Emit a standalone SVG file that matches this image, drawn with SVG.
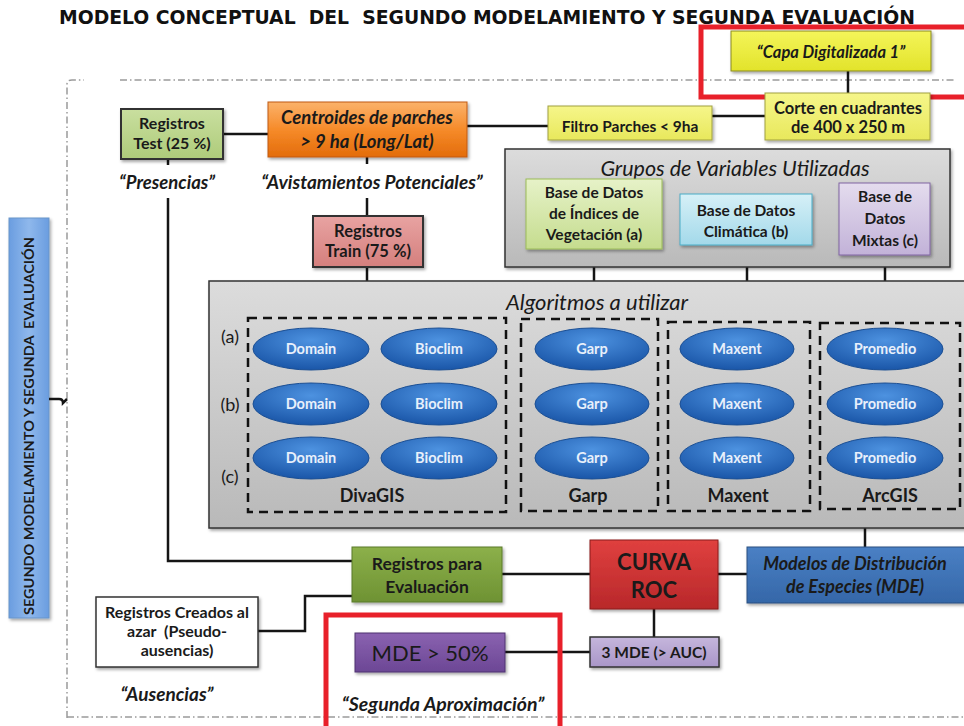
<svg xmlns="http://www.w3.org/2000/svg" width="964" height="726" viewBox="0 0 964 726">
<defs>
<linearGradient id="gOrange" x1="0" y1="0" x2="0" y2="1"><stop offset="0" stop-color="#fbb26a"/><stop offset="0.5" stop-color="#f68b2a"/><stop offset="1" stop-color="#e36c0a"/></linearGradient>
<linearGradient id="gYellow" x1="0" y1="0" x2="0" y2="1"><stop offset="0" stop-color="#f4f55a"/><stop offset="1" stop-color="#e2e32a"/></linearGradient>
<linearGradient id="gYellowL" x1="0" y1="0" x2="0" y2="1"><stop offset="0" stop-color="#f6f68a"/><stop offset="1" stop-color="#e8e85c"/></linearGradient>
<linearGradient id="gGray" x1="0" y1="0" x2="0" y2="1"><stop offset="0" stop-color="#dcdcdc"/><stop offset="1" stop-color="#b9b9b9"/></linearGradient>
<linearGradient id="gGreenL" x1="0" y1="0" x2="0" y2="1"><stop offset="0" stop-color="#e6f2c8"/><stop offset="1" stop-color="#c5dc8e"/></linearGradient>
<linearGradient id="gBlueL" x1="0" y1="0" x2="0" y2="1"><stop offset="0" stop-color="#d6f0f7"/><stop offset="1" stop-color="#a3d9ea"/></linearGradient>
<linearGradient id="gPurpleL" x1="0" y1="0" x2="0" y2="1"><stop offset="0" stop-color="#e4dcee"/><stop offset="1" stop-color="#c2b2d8"/></linearGradient>
<linearGradient id="gGreen" x1="0" y1="0" x2="0" y2="1"><stop offset="0" stop-color="#8cb04a"/><stop offset="1" stop-color="#6e9233"/></linearGradient>
<linearGradient id="gRed" x1="0" y1="0" x2="0" y2="1"><stop offset="0" stop-color="#e0403f"/><stop offset="1" stop-color="#b8282a"/></linearGradient>
<linearGradient id="gBlue" x1="0" y1="0" x2="0" y2="1"><stop offset="0" stop-color="#4a80c4"/><stop offset="1" stop-color="#3567a8"/></linearGradient>
<linearGradient id="gPurple" x1="0" y1="0" x2="0" y2="1"><stop offset="0" stop-color="#8a62b0"/><stop offset="1" stop-color="#6c4795"/></linearGradient>
<linearGradient id="gPink" x1="0" y1="0" x2="0" y2="1"><stop offset="0" stop-color="#e8a3a2"/><stop offset="1" stop-color="#d47f7d"/></linearGradient>
<linearGradient id="gLav" x1="0" y1="0" x2="0" y2="1"><stop offset="0" stop-color="#c5b6dc"/><stop offset="1" stop-color="#a996c8"/></linearGradient>
<linearGradient id="gSide" x1="0" y1="0" x2="1" y2="0"><stop offset="0" stop-color="#6a9de0"/><stop offset="0.5" stop-color="#8fb8ec"/><stop offset="1" stop-color="#6a9de0"/></linearGradient>
<linearGradient id="gTest" x1="0" y1="0" x2="0" y2="1"><stop offset="0" stop-color="#c9df9f"/><stop offset="1" stop-color="#aecb7a"/></linearGradient>
<radialGradient id="gEll" cx="0.5" cy="0.3" r="0.7"><stop offset="0" stop-color="#4d92e0"/><stop offset="1" stop-color="#1a56a8"/></radialGradient>
<filter id="sh" x="-10%" y="-10%" width="125%" height="135%"><feDropShadow dx="1.5" dy="2" stdDeviation="1.5" flood-color="#000" flood-opacity="0.35"/></filter>
<style>
.t{font-family:"Lato","Open Sans","Liberation Sans",sans-serif;text-anchor:middle;fill:#1a1a1a}
.b{font-weight:bold}
.i{font-style:italic}
.box{stroke:#333;stroke-width:2}
.conn{stroke:#151515;stroke-width:2.5;fill:none}
.ell{fill:url(#gEll);stroke:#1b4f94;stroke-width:1}
.el{font-family:"Lato","Open Sans","Liberation Sans",sans-serif;font-weight:bold;font-size:14.5px;fill:#e8f0fb;text-anchor:middle}
.dash{fill:none;stroke:#111;stroke-width:2.5;stroke-dasharray:9 6}
.frame{fill:none;stroke:#9a9a9a;stroke-width:1.5;stroke-dasharray:7 3 1.5 3}
.red{fill:none;stroke:#e8202a;stroke-width:5}
</style>
</defs>
<rect width="964" height="726" fill="#ffffff"/>

<text x="487" y="24" font-family="'DejaVu Sans','Liberation Sans',sans-serif" font-weight="bold" font-size="19" text-anchor="middle" fill="#111" textLength="856" lengthAdjust="spacingAndGlyphs" xml:space="preserve">MODELO CONCEPTUAL  DEL  SEGUNDO MODELAMIENTO Y SEGUNDA EVALUACIÓN</text>

<g id="frame">
<path class="frame" d="M67,718 L67,84 Q67,80 72,80 L84,80"/>
<path class="frame" d="M120,80 L955,80"/>
<path class="frame" d="M67,717 L964,717"/>
</g>

<g id="sidebar">
<rect x="9" y="218" width="40" height="400" fill="url(#gSide)" stroke="#6b95c9" stroke-width="1" filter="url(#sh)"/>
<text class="t b" font-size="14" transform="translate(34,426) rotate(-90)" textLength="378" lengthAdjust="spacingAndGlyphs" fill="#1d2a3a" xml:space="preserve">SEGUNDO MODELAMIENTO Y SEGUNDA  EVALUACIÓN</text>
</g>

<g id="connectors">
<path class="conn" d="M49,399 L59,399 Q63,399 63,403 L67,399" stroke-width="1.5"/>
<line class="conn" x1="223" y1="134" x2="268" y2="134"/>
<line class="conn" x1="467" y1="126" x2="548" y2="126"/>
<line class="conn" x1="712" y1="116" x2="765" y2="116"/>
<line class="conn" x1="848" y1="71" x2="848" y2="93"/>
<line class="conn" x1="168" y1="159" x2="168" y2="165"/>
<path class="conn" d="M168,198 L168,561 L352,561"/>
<line class="conn" x1="367" y1="157" x2="367" y2="164"/>
<line class="conn" x1="367" y1="198" x2="367" y2="216"/>
<line class="conn" x1="367" y1="267" x2="367" y2="281"/>
<line class="conn" x1="594" y1="249" x2="594" y2="281"/>
<line class="conn" x1="747" y1="245" x2="747" y2="281"/>
<line class="conn" x1="885" y1="255" x2="885" y2="281"/>
<line class="conn" x1="865" y1="528" x2="865" y2="547"/>
<line class="conn" x1="502" y1="574" x2="590" y2="574"/>
<line class="conn" x1="718" y1="574" x2="747" y2="574"/>
<line class="conn" x1="654" y1="609" x2="654" y2="637"/>
<line class="conn" x1="505" y1="652" x2="590" y2="652"/>
<path class="conn" d="M258,631 L305,631 L305,596 L352,596"/>
</g>

<g id="capa">
<rect x="731" y="31" width="200" height="40" fill="url(#gYellow)" stroke="#8a8a20" stroke-width="1" filter="url(#sh)"/>
<text class="t b i" x="831" y="58" font-size="16.5" fill="#2a2a10">“Capa Digitalizada 1”</text>
</g>
<rect id="red1" class="red" x="701" y="27" width="270" height="70"/>

<g id="corte">
<rect x="765" y="93" width="165" height="47" fill="url(#gYellowL)" stroke="#a0a040" stroke-width="1" filter="url(#sh)"/>
<text class="t b" x="848" y="114" font-size="16.5">Corte en cuadrantes</text>
<text class="t b" x="848" y="133" font-size="16.5">de 400 x 250 m</text>
</g>

<g id="filtro">
<rect x="548" y="106" width="164" height="34" fill="url(#gYellowL)" stroke="#a0a040" stroke-width="1" filter="url(#sh)"/>
<text class="t b" x="630" y="132" font-size="15.5">Filtro Parches &lt; 9ha</text>
</g>

<g id="test">
<rect class="box" x="121" y="109" width="102" height="50" fill="url(#gTest)" filter="url(#sh)"/>
<text class="t b" x="172" y="129" font-size="16">Registros</text>
<text class="t b" x="172" y="149" font-size="16">Test (25 %)</text>
</g>
<text id="presencias" class="t b i" x="167" y="189" font-size="18.5">“Presencias”</text>

<g id="centroides">
<rect x="268" y="102" width="199" height="55" fill="url(#gOrange)" stroke="#c05a10" stroke-width="1" filter="url(#sh)"/>
<text class="t b i" x="367" y="124" font-size="18.5">Centroides de parches</text>
<text class="t b i" x="367" y="148" font-size="18.5">&gt; 9 ha (Long/Lat)</text>
</g>
<text id="avistamientos" class="t b i" x="372" y="189" font-size="19">“Avistamientos Potenciales”</text>

<g id="train">
<rect class="box" x="313" y="216" width="110" height="51" fill="url(#gPink)" filter="url(#sh)"/>
<text class="t b" x="368" y="237" font-size="16.5">Registros</text>
<text class="t b" x="368" y="257" font-size="16.5">Train (75 %)</text>
</g>

<g id="grupos">
<rect x="505" y="149" width="445" height="118" fill="url(#gGray)" stroke="#333" stroke-width="1.5" filter="url(#sh)"/>
<text class="t i" x="735" y="176" font-size="21.5" fill="#2a2a2a">Grupos de Variables Utilizadas</text>
</g>
<g id="baseA">
<rect x="526" y="179" width="136" height="70" fill="url(#gGreenL)" stroke="#9bbb59" stroke-width="1" filter="url(#sh)"/>
<text class="t b" x="594" y="198" font-size="15.5">Base de Datos</text>
<text class="t b" x="594" y="219" font-size="15.5">de Índices de</text>
<text class="t b" x="594" y="240" font-size="15.5">Vegetación (a)</text>
</g>
<g id="baseB">
<rect x="680" y="194" width="132" height="51" fill="url(#gBlueL)" stroke="#4bacc6" stroke-width="1" filter="url(#sh)"/>
<text class="t b" x="746" y="216" font-size="15.5">Base de Datos</text>
<text class="t b" x="746" y="237" font-size="15.5">Climática (b)</text>
</g>
<g id="baseC">
<rect x="839" y="183" width="91" height="72" fill="url(#gPurpleL)" stroke="#8064a2" stroke-width="1" filter="url(#sh)"/>
<text class="t b" x="885" y="202" font-size="15.5">Base de</text>
<text class="t b" x="885" y="224" font-size="15.5">Datos</text>
<text class="t b" x="885" y="246" font-size="15.5">Mixtas (c)</text>
</g>

<g id="algoritmos">
<rect x="209" y="281" width="760" height="247" fill="url(#gGray)" stroke="#333" stroke-width="1.5" filter="url(#sh)"/>
<text class="t i" x="597" y="310" font-size="22" fill="#2a2a2a">Algoritmos a utilizar</text>
<text class="t" x="230" y="343" font-size="18" fill="#333">(a)</text>
<text class="t" x="230" y="411" font-size="18" fill="#333">(b)</text>
<text class="t" x="230" y="483" font-size="18" fill="#333">(c)</text>
</g>

<g id="divagis">
<rect class="dash" x="248" y="318" width="258" height="194"/>
<ellipse class="ell" cx="311" cy="349" rx="58" ry="21"/><text class="el" x="311" y="354">Domain</text>
<ellipse class="ell" cx="439" cy="349" rx="58" ry="21"/><text class="el" x="439" y="354">Bioclim</text>
<ellipse class="ell" cx="311" cy="404" rx="58" ry="21"/><text class="el" x="311" y="409">Domain</text>
<ellipse class="ell" cx="439" cy="404" rx="58" ry="21"/><text class="el" x="439" y="409">Bioclim</text>
<ellipse class="ell" cx="311" cy="458" rx="58" ry="21"/><text class="el" x="311" y="463">Domain</text>
<ellipse class="ell" cx="439" cy="458" rx="58" ry="21"/><text class="el" x="439" y="463">Bioclim</text>
<text class="t b" x="372" y="502" font-size="18">DivaGIS</text>
</g>

<g id="garp">
<rect class="dash" x="521" y="319" width="137" height="192"/>
<ellipse class="ell" cx="592" cy="349" rx="57" ry="21"/><text class="el" x="592" y="354">Garp</text>
<ellipse class="ell" cx="592" cy="404" rx="57" ry="21"/><text class="el" x="592" y="409">Garp</text>
<ellipse class="ell" cx="592" cy="458" rx="57" ry="21"/><text class="el" x="592" y="463">Garp</text>
<text class="t b" x="588" y="502" font-size="18">Garp</text>
</g>

<g id="maxent">
<rect class="dash" x="668" y="322" width="142" height="189"/>
<ellipse class="ell" cx="737" cy="349" rx="57" ry="21"/><text class="el" x="737" y="354">Maxent</text>
<ellipse class="ell" cx="737" cy="404" rx="57" ry="21"/><text class="el" x="737" y="409">Maxent</text>
<ellipse class="ell" cx="737" cy="458" rx="57" ry="21"/><text class="el" x="737" y="463">Maxent</text>
<text class="t b" x="738" y="502" font-size="18">Maxent</text>
</g>

<g id="arcgis">
<rect class="dash" x="820" y="323" width="140" height="186"/>
<ellipse class="ell" cx="885" cy="349" rx="58" ry="21"/><text class="el" x="885" y="354">Promedio</text>
<ellipse class="ell" cx="885" cy="404" rx="58" ry="21"/><text class="el" x="885" y="409">Promedio</text>
<ellipse class="ell" cx="885" cy="458" rx="58" ry="21"/><text class="el" x="885" y="463">Promedio</text>
<text class="t b" x="890" y="502" font-size="18">ArcGIS</text>
</g>

<g id="evaluacion">
<rect x="352" y="547" width="150" height="55" fill="url(#gGreen)" stroke="#5a7a28" stroke-width="1" filter="url(#sh)"/>
<text class="t b" x="427" y="570" font-size="17.5" fill="#f4f4f4">Registros para</text>
<text class="t b" x="427" y="593" font-size="17.5" fill="#f4f4f4">Evaluación</text>
</g>

<g id="curva">
<rect x="590" y="540" width="128" height="69" fill="url(#gRed)" stroke="#8a1c1c" stroke-width="1" filter="url(#sh)"/>
<text class="t b" x="654" y="570" font-size="22" fill="#f8f8f8">CURVA</text>
<text class="t b" x="654" y="598" font-size="22" fill="#f8f8f8">ROC</text>
</g>

<g id="modelos">
<rect x="747" y="547" width="225" height="56" fill="url(#gBlue)" stroke="#2a4f80" stroke-width="1" filter="url(#sh)"/>
<text class="t b i" x="855" y="570" font-size="18" fill="#1a1a2a">Modelos de Distribución</text>
<text class="t b i" x="855" y="593" font-size="18" fill="#1a1a2a">de Especies (MDE)</text>
</g>

<g id="tresmde">
<rect x="590" y="637" width="129" height="30" fill="url(#gLav)" stroke="#333" stroke-width="1.5" filter="url(#sh)"/>
<text class="t b" x="654" y="658" font-size="15.5">3 MDE (&gt; AUC)</text>
</g>

<g id="mde50">
<rect x="355" y="633" width="150" height="39" fill="url(#gPurple)" stroke="#4f3270" stroke-width="1" filter="url(#sh)"/>
<text class="t" x="430" y="661" font-size="22" fill="#f6f6f6">MDE &gt; 50%</text>
</g>
<text id="segunda" class="t b i" x="443" y="711" font-size="19.5">“Segunda Aproximación”</text>
<rect id="red2" class="red" x="326" y="615" width="234" height="115"/>

<g id="creados">
<rect x="96" y="597" width="162" height="70" fill="#ffffff" stroke="#333" stroke-width="1.5" filter="url(#sh)"/>
<text class="t b" x="177" y="618" font-size="16">Registros Creados al</text>
<text class="t b" x="177" y="637" font-size="16" xml:space="preserve">azar  (Pseudo-</text>
<text class="t b" x="177" y="656" font-size="16">ausencias)</text>
</g>
<text id="ausencias" class="t b i" x="167" y="701" font-size="19">“Ausencias”</text>
</svg>
